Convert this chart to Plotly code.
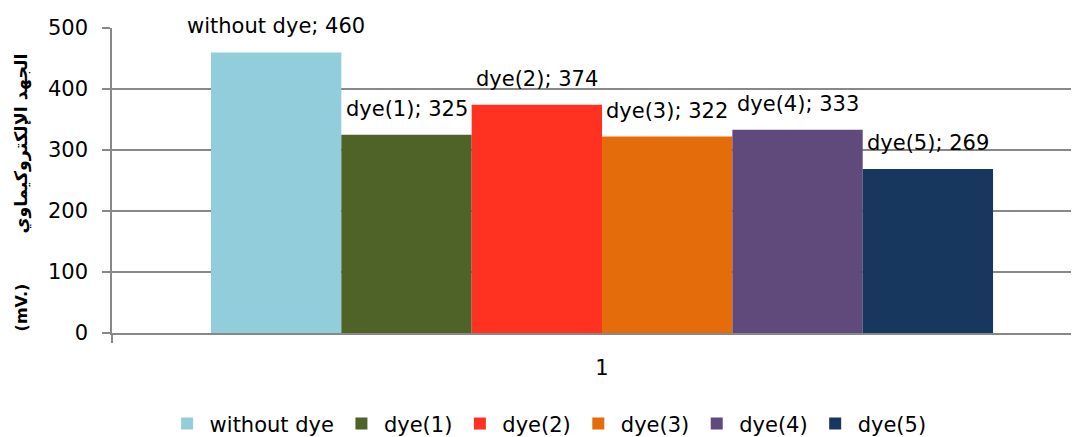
import plotly.graph_objects as go

categories = [1]
series_names = ["without dye", "dye(1)", "dye(2)", "dye(3)", "dye(4)", "dye(5)"]
series_values = [460, 325, 374, 322, 333, 269]
series_colors = ["#92CDDC", "#4F6228", "#FF3222", "#E46C0A", "#604A7B", "#17375E"]
y_ticks = [0, 100, 200, 300, 400, 500]
y_title = ("(mV.)" + "\u00a0" * 9 +
           "<span style='font-size:17.5px'>الجهد\u00a0الإلكتروكيماوي</span>")

FONT = "DejaVu Sans"
BARGAP = 0.202
X_RANGE = [0.5, 1.4867]

fig = go.Figure()
for name, val, col in zip(series_names, series_values, series_colors):
    fig.add_trace(go.Bar(x=categories, y=[val], name=name, marker=dict(color=col, line=dict(width=0))))

# data labels (Excel "outside end" style)
n = len(series_names)
slot = (1 - BARGAP) / n
for i, (name, val) in enumerate(zip(series_names, series_values)):
    xc = categories[0] + (i - (n - 1) / 2) * slot
    fig.add_annotation(x=xc, y=val, xref="x", yref="y", text=f"{name}; {val}",
                       showarrow=False, yanchor="middle", yshift=26,
                       font=dict(family=FONT, size=21, color="black"))

fig.add_annotation(x=0, y=0.461, xref="paper", yref="paper", xshift=-91,
                   text=y_title, textangle=-90, showarrow=False,
                   xanchor="center", yanchor="middle",
                   font=dict(family=FONT, size=16, color="black", weight="bold"))

fig.update_layout(
    width=1071, height=429,
    margin=dict(l=104, r=0, t=20, b=104, autoexpand=False),
    paper_bgcolor="white", plot_bgcolor="white",
    barmode="group", bargap=BARGAP, bargroupgap=0,
    font=dict(family=FONT, size=21, color="black"),
    showlegend=True,
    legend=dict(orientation="h", x=0.451, xanchor="center", y=-0.298, yanchor="middle",
                font=dict(family=FONT, size=21, color="black"),
                traceorder="normal", itemwidth=35),
    xaxis=dict(range=X_RANGE, tickvals=categories, ticktext=[str(c) for c in categories],
               ticks="", showgrid=False, zeroline=False,
               showline=True, linecolor="#888888", linewidth=1.5,
               ticklabelstandoff=15, automargin=False,
               minor=dict(tickvals=[X_RANGE[0]], ticks="outside", ticklen=8,
                          tickcolor="#888888", tickwidth=1.5, showgrid=False),
               tickfont=dict(family=FONT, size=21, color="black")),
    yaxis=dict(range=[0, 500], tickvals=y_ticks, showgrid=True, gridcolor="#888888",
               gridwidth=1.5, zeroline=False, showline=True, linecolor="#888888",
               linewidth=1.5, ticks="outside", ticklen=8, tickcolor="#888888", tickwidth=1.5,
               ticklabelstandoff=10, automargin=False,
               tickfont=dict(family=FONT, size=21, color="black")),
)

fig.write_html("out.html")
